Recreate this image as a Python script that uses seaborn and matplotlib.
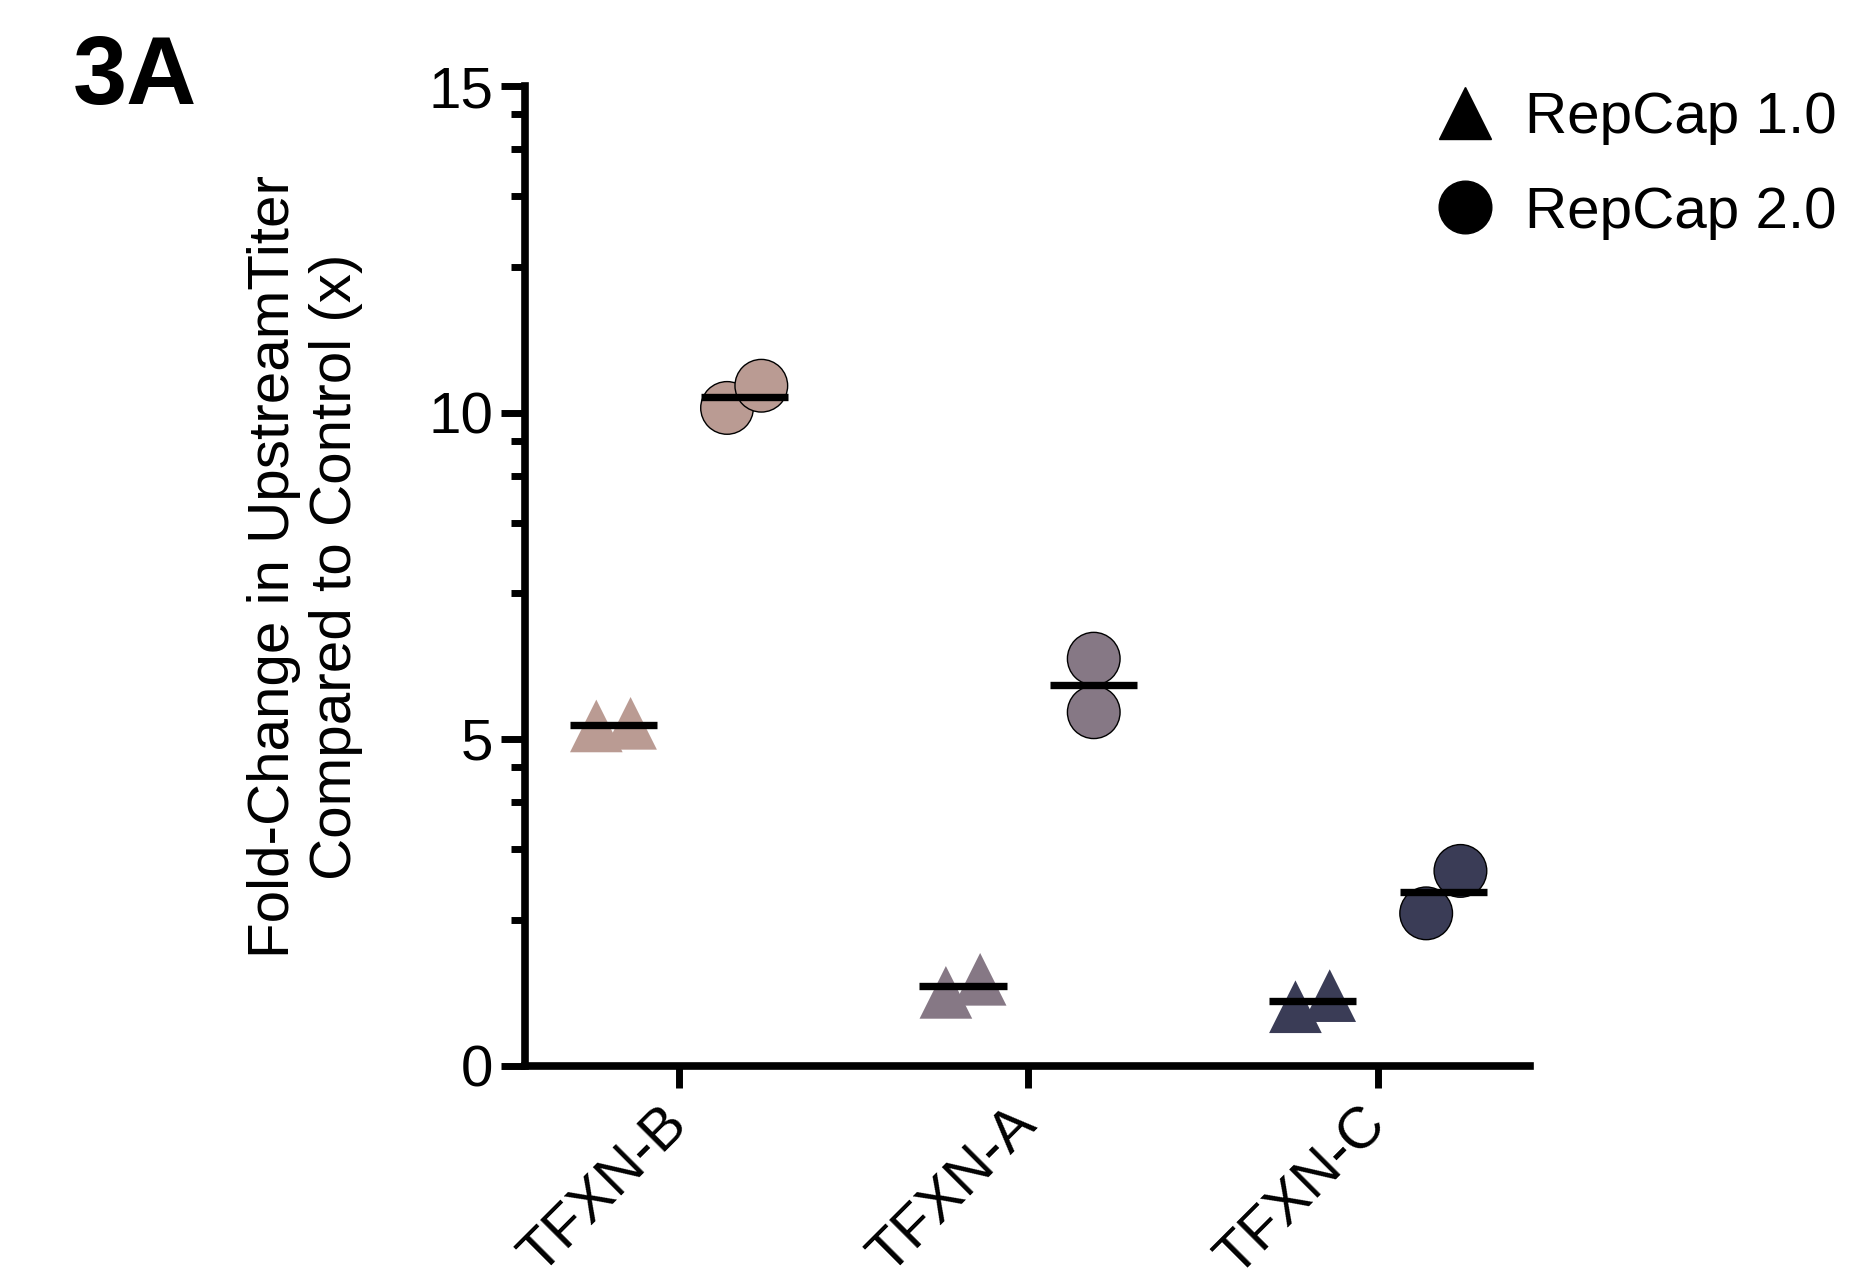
import numpy as np
import pandas as pd
import matplotlib
matplotlib.use("Agg")
import matplotlib.pyplot as plt
from matplotlib.lines import Line2D
from matplotlib.ticker import FixedLocator
import seaborn as sns

# values
categories = ['TFXN-B', 'TFXN-A', 'TFXN-C']
repcaps = ['RepCap 1.0', 'RepCap 2.0']
repcap1_values = {'TFXN-B': [5.20, 5.24], 'TFXN-A': [1.12, 1.32], 'TFXN-C': [0.90, 1.07]}
repcap2_values = {'TFXN-B': [10.07, 10.41], 'TFXN-A': [6.23, 5.41], 'TFXN-C': [2.33, 2.98]}
colors = {'TFXN-B': '#BA9B93', 'TFXN-A': '#867885', 'TFXN-C': '#3A3C56'}

# layout (styling only)
dodge = {'RepCap 1.0': -0.187, 'RepCap 2.0': 0.187}
spread = {('TFXN-A', 'RepCap 2.0'): [0.0, 0.0]}  # everything else: +/- 0.049
default_spread = [-0.049, 0.049]
mean_halfwidth = 0.1245

rows = []
for rc, table in zip(repcaps, [repcap1_values, repcap2_values]):
    for i, cat in enumerate(categories):
        offs = spread.get((cat, rc), default_spread)
        for v, o in zip(table[cat], offs):
            rows.append({'cat': cat, 'repcap': rc, 'value': v,
                         'xpos': i + dodge[rc] + o, 'center': i + dodge[rc]})
df = pd.DataFrame(rows)

sns.set_style("ticks")
plt.rcParams['font.family'] = ['Liberation Sans', 'DejaVu Sans']
plt.rcParams['text.color'] = 'black'
plt.rcParams['axes.labelcolor'] = 'black'
plt.rcParams['xtick.color'] = 'black'
plt.rcParams['ytick.color'] = 'black'

fs = 42

fig = plt.figure(figsize=(18.52, 12.73), dpi=100)
ax = fig.add_axes([525 / 1852, 1 - 1065.5 / 1273, 1005 / 1852, 979.5 / 1273])

ms = 1438
tri = df[df.repcap == 'RepCap 1.0']
circ = df[df.repcap == 'RepCap 2.0']
sns.scatterplot(data=tri, x='xpos', y='value', hue='cat', palette=colors, marker='^',
                s=ms, linewidth=0, edgecolor='none', legend=False, ax=ax, zorder=3)
sns.scatterplot(data=circ, x='xpos', y='value', hue='cat', palette=colors, marker='o',
                s=ms, linewidth=1.0, edgecolor='black', legend=False, ax=ax, zorder=3)

means = df.groupby(['cat', 'repcap'], sort=False).agg(value=('value', 'mean'), center=('center', 'first')).reset_index()
ax.hlines(means['value'], means['center'] - mean_halfwidth, means['center'] + mean_halfwidth,
          colors='black', linewidth=5.3, zorder=5)

ax.set_xlim(-0.44, 2.435)
ax.set_ylim(0, 15)
ax.set_xticks(range(len(categories)))
ax.set_xticklabels(categories)
ax.set_yticks([0, 5, 10, 15])
minor = []
for base in [0, 5, 10]:
    minor += [base + d for d in [2.23, 3.31, 4.03, 4.57]]
ax.yaxis.set_minor_locator(FixedLocator(minor))

for side in ['top', 'right']:
    ax.spines[side].set_visible(False)
for side in ['left', 'bottom']:
    ax.spines[side].set_linewidth(5.5)
    ax.spines[side].set_color('black')

ax.tick_params(axis='y', which='major', length=17, width=5, labelsize=fs, pad=6,
               color='black', labelcolor='black')
ax.tick_params(axis='y', which='minor', length=10, width=5, color='black')
ax.tick_params(axis='x', which='major', length=16, width=5, labelsize=fs, pad=20,
               color='black', labelcolor='black')
plt.setp(ax.get_xticklabels(), rotation=45, ha='right', va='center', rotation_mode='anchor')

ax.set_xlabel('')
ax.set_ylabel('Fold-Change in UpstreamTiter\nCompared to Control (x)', fontsize=fs, color='black')
ax.yaxis.set_label_coords(-0.161, 0.509)

handles = [Line2D([], [], marker='^', color='black', linestyle='none', markersize=37.9),
           Line2D([], [], marker='o', color='black', linestyle='none', markersize=37.9)]
fig.legend(handles, repcaps, loc='upper left', bbox_to_anchor=(1436 / 1852, 1 - 91 / 1273),
           frameon=False, fontsize=fs, handlelength=1.0, handletextpad=0.52,
           labelspacing=0.7, borderpad=0, borderaxespad=0, labelcolor='black')

fig.text(73 / 1852, 1 - 104 / 1273, '3A', fontsize=70, fontweight='bold', va='baseline',
         ha='left', color='black')

fig.savefig('out.png', dpi=100)
